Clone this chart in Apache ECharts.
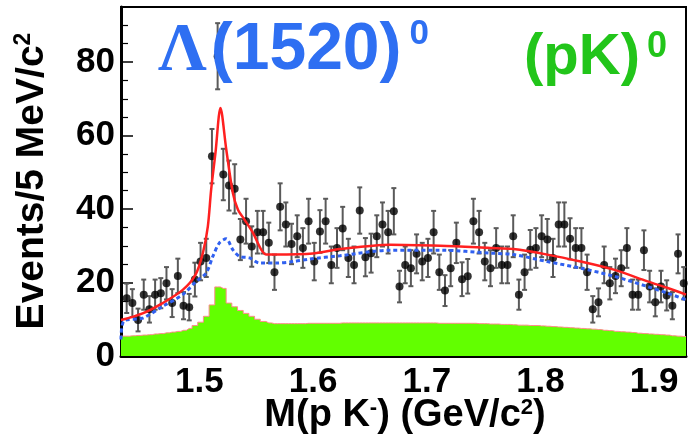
<!DOCTYPE html>
<html><head><meta charset="utf-8">
<script src="https://cdn.jsdelivr.net/npm/echarts@6/dist/echarts.min.js"></script>
<style>html,body{margin:0;padding:0;background:#fff}#c{width:688px;height:441px}</style>
</head><body><div id="c"></div>
<script>
// histogram binning (5 MeV bins)
const binStart = 1.436;
const binWidth = 0.005;

// data: events per bin
const counts = [15.7,14.4,9.8,16.7,12.7,16.7,17.1,19.8,14.4,21.8,
  13.7,13.3,20.8,25.7,26.7,54.4,81.6,49.4,46.4,45.5,
  31.7,36.7,29.8,33.7,33.7,30.8,22.8,40.6,35.8,30.5,
  32.6,29.4,36.7,25.7,33.9,36.7,24.8,29.4,34.7,26.7,
  24.8,39.6,26.9,28.0,32.6,35.8,33.7,39.4,18.9,24.8,
  23.9,27.8,25.7,26.7,33.7,22.8,17.8,23.9,30.8,20.9,
  21.7,36.7,33.7,25.7,23.9,29.4,24.8,24.8,32.6,16.7,
  22.8,28.9,29.4,32.6,31.7,26.7,35.8,35.8,31.9,29.4,
  29.4,22.8,12.7,14.6,24.8,19.8,21.8,23.9,29.4,16.7,
  16.7,28.8,18.9,14.6,18.9,16.5,13.7,27.8,19.8];

// data: error bar half-lengths
const errors = [4.0,3.8,3.1,4.1,3.6,4.1,4.1,4.4,3.8,4.7,
  3.7,3.6,4.6,5.1,5.2,7.4,9.0,7.0,6.8,6.7,
  5.6,6.1,5.5,5.8,5.8,5.5,4.8,6.4,6.0,5.5,
  5.7,5.4,6.1,5.1,5.8,6.1,5.0,5.4,5.9,5.2,
  5.0,6.3,5.2,5.3,5.7,6.0,5.8,6.3,4.3,5.0,
  4.9,5.3,5.1,5.2,5.8,4.8,4.2,4.9,5.5,4.6,
  4.7,6.1,5.8,5.1,4.9,5.4,5.0,5.0,5.7,4.1,
  4.8,5.4,5.4,5.7,5.6,5.2,6.0,6.0,5.6,5.4,
  5.4,4.8,3.6,3.8,5.0,4.4,4.7,4.9,5.4,4.1,
  4.1,5.4,4.3,3.8,4.3,4.1,3.7,5.3,4.4];

// data: green (pK)0 histogram per bin
const pkHist = [5.4,5.5,5.6,5.7,5.8,6.0,6.1,6.3,6.5,6.7,
  7.0,7.5,8.3,9.2,10.8,13.9,18.8,18.4,14.4,13.4,
  12.4,11.6,10.8,10.0,9.4,9.0,8.8,8.8,8.8,8.8,
  8.8,8.8,8.9,8.9,8.9,8.9,8.9,8.9,9.0,9.0,
  9.0,9.0,9.0,9.0,9.0,9.0,9.0,9.0,9.0,9.0,
  9.0,9.0,9.0,9.0,9.0,8.9,8.9,8.9,8.9,8.9,
  8.9,8.9,8.8,8.8,8.7,8.7,8.6,8.6,8.5,8.4,
  8.4,8.3,8.3,8.2,8.1,8.0,7.9,7.8,7.7,7.6,
  7.5,7.4,7.3,7.2,7.0,6.9,6.7,6.6,6.5,6.4,
  6.2,6.1,6.0,5.9,5.8,5.7,5.5,5.4,5.3];

// data: total fit curve (red)
const fitTotal = [[1.431,9.8],[1.450,11.6],[1.4676,14.4],[1.4853,18.0],[1.4965,22.1],
  [1.503,28.0],[1.5074,35.3],[1.5103,45.3],[1.5141,55.3],[1.5185,67.5],[1.5236,56.2],
  [1.5294,44.4],[1.5338,39.9],[1.5397,37.1],[1.5471,33.5],[1.5545,28.9],[1.559,27.6],
  [1.5971,27.8],[1.6236,29.1],[1.6677,30.3],[1.7118,30.0],[1.7559,29.4],[1.7762,29.1],
  [1.806,27.6],[1.8354,25.7],[1.8645,23.5],[1.8942,20.3],[1.9119,18.5],[1.928,16.7]];

// data: background fit curve (blue dashed)
const fitBkg = [[1.431,4.5],[1.4335,9.5],[1.450,10.3],[1.4676,13.5],[1.4853,16.7],
  [1.4971,20.3],[1.5059,22.6],[1.5118,27.1],[1.5176,30.8],[1.5235,31.9],[1.5294,28.9],
  [1.5353,27.1],[1.5441,26.7],[1.553,25.3],[1.5677,25.3],[1.5824,25.7],[1.5971,26.4],
  [1.6236,27.3],[1.6677,28.8],[1.7118,28.8],[1.7559,28.0],[1.7765,27.6],[1.806,25.7],
  [1.8354,23.9],[1.8648,21.7],[1.8942,18.9],[1.9119,17.1],[1.928,15.3]];

// axis ticks
const xMajorTicks = [1.5,1.6,1.7,1.8,1.9];
const xMinorTicks = [1.44,1.46,1.48,1.52,1.54,1.56,1.58,1.62,1.64,1.66,1.68,1.72,1.74,1.76,1.78,1.82,1.84,1.86,1.88,1.92];
const yMajorTicks = [0,20,40,60,80];
const yMinorTicks = [5,10,15,25,30,35,45,50,55,65,70,75,85,90];
const xMin = 1.431, xMax = 1.928, yMin = 0, yMax = 95;

const pointData = counts.map((v,i)=>[+(binStart+i*binWidth).toFixed(4), v, errors[i]]);
const histData = [[xMin, pkHist[0]]].concat(pkHist.map((v,i)=>[+(binStart+i*binWidth).toFixed(4), v]), [[xMax, pkHist[pkHist.length-1]]]);

const FONT = 'Liberation Sans, Arial, sans-serif';
const chart = echarts.init(document.getElementById('c'), null, {renderer:'canvas'});
chart.setOption({
  animation:false,
  backgroundColor:'#fff',
  grid:{left:121,right:2,top:7,bottom:85,show:true,borderColor:'#000',borderWidth:2,backgroundColor:'transparent'},
  xAxis:[
    {type:'value',min:xMin,max:xMax,position:'bottom',
     axisLine:{show:true,onZero:false,lineStyle:{color:'#000',width:3}},
     axisTick:{show:true,inside:true,length:9,customValues:xMajorTicks,lineStyle:{color:'#000',width:1.5}},
     axisLabel:{show:true,customValues:xMajorTicks,margin:9,color:'#000',fontFamily:FONT,fontWeight:'bold',fontSize:35,
       formatter:v=>v.toFixed(1)},
     splitLine:{show:false}},
    {type:'value',min:xMin,max:xMax,position:'bottom',offset:0,
     axisLine:{show:false},
     axisTick:{show:true,inside:true,length:5,customValues:xMinorTicks,lineStyle:{color:'#000',width:1.2}},
     axisLabel:{show:false},splitLine:{show:false}}
  ],
  yAxis:[
    {type:'value',min:yMin,max:yMax,position:'left',
     axisLine:{show:true,onZero:false,lineStyle:{color:'#000',width:3}},
     axisTick:{show:true,inside:true,length:12,customValues:yMajorTicks,lineStyle:{color:'#000',width:1.5}},
     axisLabel:{show:true,customValues:yMajorTicks,margin:6,color:'#000',fontFamily:FONT,fontWeight:'bold',fontSize:35},
     splitLine:{show:false}},
    {type:'value',min:yMin,max:yMax,position:'left',offset:0,
     axisLine:{show:false},
     axisTick:{show:true,inside:true,length:7,customValues:yMinorTicks,lineStyle:{color:'#000',width:1.2}},
     axisLabel:{show:false},splitLine:{show:false}}
  ],
  series:[
    {type:'line',name:'pK',data:histData,step:'middle',symbol:'none',z:1,
     lineStyle:{color:'#ff8a8a',width:1},areaStyle:{color:'#62ff00',opacity:1}},
    {type:'custom',name:'err',data:pointData,z:2,
     renderItem:function(params,api){
       const x=api.value(0), y=api.value(1), e=api.value(2);
       const t=api.coord([x,y+e]), b=api.coord([x,y-e]);
       const h=2.5, st={stroke:'#5a5a5a',lineWidth:2};
       return {type:'group',children:[
         {type:'line',shape:{x1:t[0],y1:t[1],x2:b[0],y2:b[1]},style:st},
         {type:'line',shape:{x1:t[0]-h,y1:t[1],x2:t[0]+h,y2:t[1]},style:st},
         {type:'line',shape:{x1:b[0]-h,y1:b[1],x2:b[0]+h,y2:b[1]},style:st}
       ]};
     }},
    {type:'scatter',name:'data',data:pointData.map(d=>[d[0],d[1]]),symbol:'circle',symbolSize:8,z:3,
     itemStyle:{color:'#000'}},
    {type:'line',name:'bkg',data:fitBkg,smooth:0.3,symbol:'none',z:4,
     lineStyle:{color:'#3060f0',width:3,type:[4,3]}},
    {type:'line',name:'fit',data:fitTotal,smooth:0.3,symbol:'none',z:5,
     lineStyle:{color:'#ff2020',width:2.5}}
  ],
  graphic:[
    {type:'text',x:32,y:181,rotation:Math.PI/2,z:10,
     style:{text:'Events/5 MeV/c{s|2}',align:'center',verticalAlign:'middle',fill:'#000',
       font:'bold 39px '+FONT,
       rich:{s:{fontSize:23,fontWeight:'bold',fontFamily:FONT,verticalAlign:'top',fill:'#000'}}}},
    {type:'text',x:405,y:416,z:10,
     style:{text:'M(p K{s|-}) (GeV/c{s|2})',align:'center',verticalAlign:'middle',fill:'#000',
       font:'bold 38px '+FONT,
       rich:{s:{fontSize:22,fontWeight:'bold',fontFamily:FONT,verticalAlign:'top',fill:'#000'}}}},
    {type:'text',x:158,y:51,z:10,
     style:{text:'{l|Λ}{p|(1520)}{s|0}',align:'left',verticalAlign:'middle',fill:'#2e6ff2',
       font:'bold 66px '+FONT,
       rich:{l:{fontFamily:'Liberation Serif, DejaVu Serif, serif',fontWeight:'bold',fontSize:68,fill:'#2e6ff2'},
             p:{fontFamily:FONT,fontWeight:'bold',fontSize:66,fill:'#2e6ff2',padding:[0,0,0,4]},
             s:{fontSize:35,fontWeight:'bold',fontFamily:FONT,verticalAlign:'top',fill:'#2e6ff2',padding:[0,0,0,8]}}}},
    {type:'text',x:524,y:58,z:10,
     style:{text:'(pK){s|0}',align:'left',verticalAlign:'middle',fill:'#22c51a',
       font:'bold 58px '+FONT,
       rich:{s:{fontSize:36,fontWeight:'bold',fontFamily:FONT,verticalAlign:'top',fill:'#22c51a',padding:[0,0,0,7]}}}}
  ]
});
</script></body></html>
